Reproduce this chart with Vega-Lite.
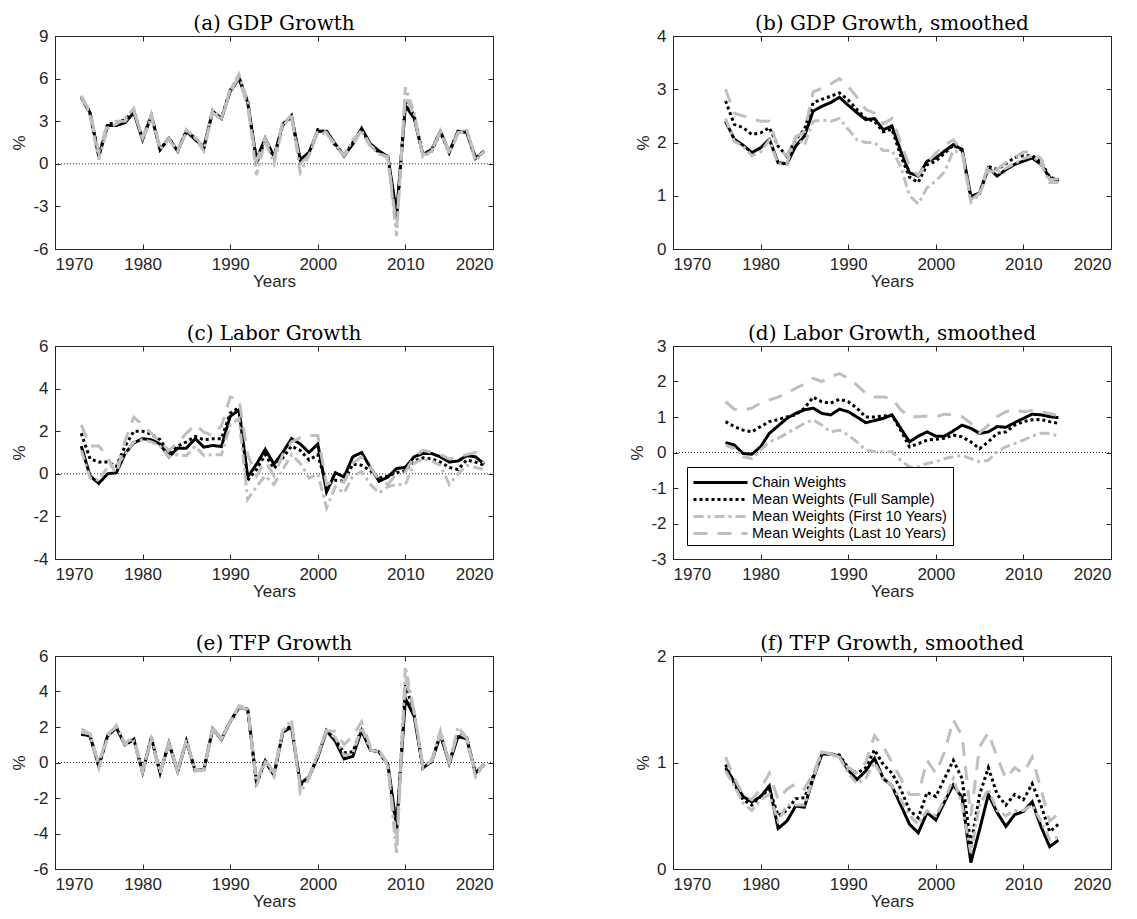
{
"$schema":"https://vega.github.io/schema/vega-lite/v6.json",
"background":"white",
"padding":{"left":10,"top":13,"right":5,"bottom":5},
"autosize":{"type":"pad"},
"datasets":{"d":[
{"p":"a","yr":1973,"cw":4.7,"mf":4.7,"m1":4.8,"ml":4.7},
{"p":"a","yr":1974,"cw":3.6,"mf":3.5,"m1":3.4,"ml":3.7},
{"p":"a","yr":1975,"cw":0.5,"mf":0.6,"m1":0.3,"ml":0.8},
{"p":"a","yr":1976,"cw":2.7,"mf":2.8,"m1":2.5,"ml":2.8},
{"p":"a","yr":1977,"cw":2.7,"mf":2.9,"m1":2.8,"ml":3.0},
{"p":"a","yr":1978,"cw":2.9,"mf":3.1,"m1":3.2,"ml":3.0},
{"p":"a","yr":1979,"cw":3.6,"mf":3.7,"m1":3.9,"ml":3.7},
{"p":"a","yr":1980,"cw":1.7,"mf":1.8,"m1":1.7,"ml":1.8},
{"p":"a","yr":1981,"cw":3.4,"mf":3.4,"m1":3.3,"ml":3.5},
{"p":"a","yr":1982,"cw":1.0,"mf":1.0,"m1":1.0,"ml":1.1},
{"p":"a","yr":1983,"cw":1.8,"mf":1.8,"m1":1.8,"ml":1.7},
{"p":"a","yr":1984,"cw":0.9,"mf":0.9,"m1":0.9,"ml":0.9},
{"p":"a","yr":1985,"cw":2.3,"mf":2.3,"m1":2.4,"ml":2.2},
{"p":"a","yr":1986,"cw":1.7,"mf":1.8,"m1":1.8,"ml":1.9},
{"p":"a","yr":1987,"cw":1.2,"mf":1.1,"m1":0.9,"ml":1.1},
{"p":"a","yr":1988,"cw":3.7,"mf":3.7,"m1":3.8,"ml":3.6},
{"p":"a","yr":1989,"cw":3.2,"mf":3.2,"m1":3.2,"ml":3.1},
{"p":"a","yr":1990,"cw":5.1,"mf":5.2,"m1":5.2,"ml":5.1},
{"p":"a","yr":1991,"cw":6.0,"mf":6.1,"m1":6.3,"ml":6.1},
{"p":"a","yr":1992,"cw":4.3,"mf":4.4,"m1":4.4,"ml":4.0},
{"p":"a","yr":1993,"cw":0.3,"mf":0.0,"m1":-0.8,"ml":0.2},
{"p":"a","yr":1994,"cw":1.8,"mf":1.7,"m1":1.6,"ml":1.8},
{"p":"a","yr":1995,"cw":0.5,"mf":0.4,"m1":0.0,"ml":0.4},
{"p":"a","yr":1996,"cw":2.8,"mf":2.7,"m1":2.6,"ml":2.9},
{"p":"a","yr":1997,"cw":3.3,"mf":3.4,"m1":3.5,"ml":3.3},
{"p":"a","yr":1998,"cw":0.3,"mf":0.1,"m1":-0.6,"ml":0.0},
{"p":"a","yr":1999,"cw":0.8,"mf":0.7,"m1":0.6,"ml":0.6},
{"p":"a","yr":2000,"cw":2.3,"mf":2.4,"m1":2.2,"ml":2.5},
{"p":"a","yr":2001,"cw":2.3,"mf":2.2,"m1":2.1,"ml":2.2},
{"p":"a","yr":2002,"cw":1.4,"mf":1.3,"m1":1.4,"ml":1.2},
{"p":"a","yr":2003,"cw":0.55,"mf":0.6,"m1":0.6,"ml":0.6},
{"p":"a","yr":2004,"cw":1.4,"mf":1.5,"m1":1.7,"ml":1.3},
{"p":"a","yr":2005,"cw":2.5,"mf":2.4,"m1":2.3,"ml":2.4},
{"p":"a","yr":2006,"cw":1.4,"mf":1.3,"m1":1.2,"ml":1.3},
{"p":"a","yr":2007,"cw":0.9,"mf":0.8,"m1":0.7,"ml":0.8},
{"p":"a","yr":2008,"cw":0.5,"mf":0.5,"m1":0.5,"ml":0.4},
{"p":"a","yr":2009,"cw":-3.5,"mf":-3.9,"m1":-5.1,"ml":-4.5},
{"p":"a","yr":2010,"cw":4.1,"mf":4.5,"m1":5.4,"ml":4.9},
{"p":"a","yr":2011,"cw":3.2,"mf":3.4,"m1":3.6,"ml":3.3},
{"p":"a","yr":2012,"cw":0.65,"mf":0.6,"m1":0.5,"ml":0.6},
{"p":"a","yr":2013,"cw":1.0,"mf":0.9,"m1":0.9,"ml":1.0},
{"p":"a","yr":2014,"cw":2.3,"mf":2.2,"m1":2.3,"ml":2.2},
{"p":"a","yr":2015,"cw":0.8,"mf":0.8,"m1":0.7,"ml":0.9},
{"p":"a","yr":2016,"cw":2.3,"mf":2.2,"m1":2.1,"ml":2.2},
{"p":"a","yr":2017,"cw":2.2,"mf":2.3,"m1":2.4,"ml":2.3},
{"p":"a","yr":2018,"cw":0.4,"mf":0.4,"m1":0.2,"ml":0.5},
{"p":"a","yr":2019,"cw":0.9,"mf":0.9,"m1":0.9,"ml":0.8},
{"p":"b","yr":1976,"cw":2.40,"mf":2.78,"m1":2.45,"ml":3.00},
{"p":"b","yr":1977,"cw":2.06,"mf":2.34,"m1":2.02,"ml":2.55},
{"p":"b","yr":1978,"cw":1.95,"mf":2.28,"m1":1.93,"ml":2.50},
{"p":"b","yr":1979,"cw":1.81,"mf":2.15,"m1":1.75,"ml":2.45},
{"p":"b","yr":1980,"cw":1.90,"mf":2.18,"m1":1.82,"ml":2.40},
{"p":"b","yr":1981,"cw":2.06,"mf":2.28,"m1":2.05,"ml":2.40},
{"p":"b","yr":1982,"cw":1.62,"mf":1.93,"m1":1.60,"ml":1.90},
{"p":"b","yr":1983,"cw":1.60,"mf":1.74,"m1":1.60,"ml":1.75},
{"p":"b","yr":1984,"cw":1.93,"mf":2.06,"m1":2.10,"ml":2.10},
{"p":"b","yr":1985,"cw":2.12,"mf":2.24,"m1":1.95,"ml":2.20},
{"p":"b","yr":1986,"cw":2.59,"mf":2.75,"m1":2.40,"ml":2.95},
{"p":"b","yr":1987,"cw":2.68,"mf":2.81,"m1":2.42,"ml":3.02},
{"p":"b","yr":1988,"cw":2.75,"mf":2.87,"m1":2.40,"ml":3.10},
{"p":"b","yr":1989,"cw":2.85,"mf":2.93,"m1":2.45,"ml":3.20},
{"p":"b","yr":1990,"cw":2.70,"mf":2.80,"m1":2.25,"ml":3.05},
{"p":"b","yr":1991,"cw":2.56,"mf":2.62,"m1":2.05,"ml":2.85},
{"p":"b","yr":1992,"cw":2.43,"mf":2.45,"m1":2.00,"ml":2.62},
{"p":"b","yr":1993,"cw":2.45,"mf":2.40,"m1":2.00,"ml":2.55},
{"p":"b","yr":1994,"cw":2.24,"mf":2.20,"m1":1.85,"ml":2.35},
{"p":"b","yr":1995,"cw":2.31,"mf":2.25,"m1":1.85,"ml":2.45},
{"p":"b","yr":1996,"cw":1.84,"mf":1.75,"m1":1.55,"ml":2.00},
{"p":"b","yr":1997,"cw":1.43,"mf":1.35,"m1":1.00,"ml":1.55},
{"p":"b","yr":1998,"cw":1.37,"mf":1.25,"m1":0.85,"ml":1.38},
{"p":"b","yr":1999,"cw":1.65,"mf":1.58,"m1":1.15,"ml":1.62},
{"p":"b","yr":2000,"cw":1.71,"mf":1.65,"m1":1.28,"ml":1.80},
{"p":"b","yr":2001,"cw":1.84,"mf":1.80,"m1":1.45,"ml":1.95},
{"p":"b","yr":2002,"cw":1.96,"mf":1.95,"m1":1.85,"ml":2.05},
{"p":"b","yr":2003,"cw":1.87,"mf":1.85,"m1":1.80,"ml":1.85},
{"p":"b","yr":2004,"cw":0.99,"mf":0.95,"m1":0.88,"ml":0.92},
{"p":"b","yr":2005,"cw":1.05,"mf":1.05,"m1":1.02,"ml":1.05},
{"p":"b","yr":2006,"cw":1.52,"mf":1.55,"m1":1.48,"ml":1.58},
{"p":"b","yr":2007,"cw":1.37,"mf":1.50,"m1":1.42,"ml":1.50},
{"p":"b","yr":2008,"cw":1.49,"mf":1.60,"m1":1.52,"ml":1.62},
{"p":"b","yr":2009,"cw":1.59,"mf":1.72,"m1":1.60,"ml":1.72},
{"p":"b","yr":2010,"cw":1.65,"mf":1.75,"m1":1.70,"ml":1.82},
{"p":"b","yr":2011,"cw":1.71,"mf":1.75,"m1":1.75,"ml":1.82},
{"p":"b","yr":2012,"cw":1.59,"mf":1.65,"m1":1.60,"ml":1.70},
{"p":"b","yr":2013,"cw":1.34,"mf":1.35,"m1":1.25,"ml":1.30},
{"p":"b","yr":2014,"cw":1.27,"mf":1.30,"m1":1.25,"ml":1.32},
{"p":"c","yr":1973,"cw":1.3,"mf":1.9,"m1":1.1,"ml":2.3},
{"p":"c","yr":1974,"cw":-0.1,"mf":0.7,"m1":-0.2,"ml":1.3},
{"p":"c","yr":1975,"cw":-0.45,"mf":0.55,"m1":-0.3,"ml":1.3},
{"p":"c","yr":1976,"cw":0.0,"mf":0.55,"m1":0.3,"ml":0.8},
{"p":"c","yr":1977,"cw":0.05,"mf":0.35,"m1":0.4,"ml":-0.05},
{"p":"c","yr":1978,"cw":0.95,"mf":1.3,"m1":0.9,"ml":1.55},
{"p":"c","yr":1979,"cw":1.45,"mf":2.0,"m1":1.5,"ml":2.65},
{"p":"c","yr":1980,"cw":1.65,"mf":2.0,"m1":1.6,"ml":2.3},
{"p":"c","yr":1981,"cw":1.6,"mf":1.85,"m1":1.5,"ml":1.9},
{"p":"c","yr":1982,"cw":1.4,"mf":1.6,"m1":1.3,"ml":1.5},
{"p":"c","yr":1983,"cw":0.8,"mf":1.0,"m1":0.8,"ml":1.1},
{"p":"c","yr":1984,"cw":1.2,"mf":1.3,"m1":0.9,"ml":1.45},
{"p":"c","yr":1985,"cw":1.2,"mf":1.5,"m1":0.85,"ml":1.9},
{"p":"c","yr":1986,"cw":1.65,"mf":1.75,"m1":1.3,"ml":2.3},
{"p":"c","yr":1987,"cw":1.25,"mf":1.6,"m1":0.85,"ml":1.95},
{"p":"c","yr":1988,"cw":1.33,"mf":1.65,"m1":0.9,"ml":1.8},
{"p":"c","yr":1989,"cw":1.28,"mf":1.65,"m1":0.9,"ml":2.25},
{"p":"c","yr":1990,"cw":2.7,"mf":2.85,"m1":2.3,"ml":3.6},
{"p":"c","yr":1991,"cw":3.0,"mf":3.1,"m1":2.6,"ml":3.5},
{"p":"c","yr":1992,"cw":-0.15,"mf":-0.3,"m1":-1.2,"ml":0.9},
{"p":"c","yr":1993,"cw":0.45,"mf":0.2,"m1":-0.6,"ml":-0.1},
{"p":"c","yr":1994,"cw":1.15,"mf":0.9,"m1":-0.1,"ml":0.6},
{"p":"c","yr":1995,"cw":0.45,"mf":0.25,"m1":-0.5,"ml":-0.1},
{"p":"c","yr":1996,"cw":1.0,"mf":0.75,"m1":0.2,"ml":0.9},
{"p":"c","yr":1997,"cw":1.65,"mf":1.3,"m1":0.9,"ml":1.5},
{"p":"c","yr":1998,"cw":1.4,"mf":1.1,"m1":0.5,"ml":1.7},
{"p":"c","yr":1999,"cw":1.0,"mf":0.65,"m1":-0.2,"ml":1.8},
{"p":"c","yr":2000,"cw":1.4,"mf":0.9,"m1":0.0,"ml":1.8},
{"p":"c","yr":2001,"cw":-0.85,"mf":-0.55,"m1":-1.6,"ml":-0.5},
{"p":"c","yr":2002,"cw":0.05,"mf":-0.3,"m1":-0.6,"ml":-0.3},
{"p":"c","yr":2003,"cw":-0.15,"mf":-0.35,"m1":-0.9,"ml":-0.4},
{"p":"c","yr":2004,"cw":0.8,"mf":0.45,"m1":-0.1,"ml":0.5},
{"p":"c","yr":2005,"cw":1.0,"mf":0.4,"m1":0.1,"ml":0.8},
{"p":"c","yr":2006,"cw":0.3,"mf":0.15,"m1":-0.5,"ml":0.3},
{"p":"c","yr":2007,"cw":-0.35,"mf":-0.2,"m1":-0.9,"ml":-0.3},
{"p":"c","yr":2008,"cw":-0.15,"mf":-0.1,"m1":-0.6,"ml":-0.5},
{"p":"c","yr":2009,"cw":0.25,"mf":0.05,"m1":-0.5,"ml":0.0},
{"p":"c","yr":2010,"cw":0.3,"mf":0.15,"m1":-0.5,"ml":0.1},
{"p":"c","yr":2011,"cw":0.8,"mf":0.6,"m1":0.5,"ml":0.8},
{"p":"c","yr":2012,"cw":0.95,"mf":0.75,"m1":0.7,"ml":1.1},
{"p":"c","yr":2013,"cw":0.95,"mf":0.7,"m1":0.6,"ml":1.0},
{"p":"c","yr":2014,"cw":0.8,"mf":0.55,"m1":0.4,"ml":0.9},
{"p":"c","yr":2015,"cw":0.55,"mf":0.3,"m1":-0.5,"ml":0.7},
{"p":"c","yr":2016,"cw":0.6,"mf":0.2,"m1":0.0,"ml":0.8},
{"p":"c","yr":2017,"cw":0.85,"mf":0.65,"m1":0.4,"ml":0.9},
{"p":"c","yr":2018,"cw":0.8,"mf":0.55,"m1":0.3,"ml":1.0},
{"p":"c","yr":2019,"cw":0.45,"mf":0.4,"m1":0.2,"ml":0.5},
{"p":"d","yr":1976,"cw":0.28,"mf":0.87,"m1":0.21,"ml":1.43},
{"p":"d","yr":1977,"cw":0.21,"mf":0.73,"m1":0.11,"ml":1.22},
{"p":"d","yr":1978,"cw":-0.03,"mf":0.63,"m1":-0.12,"ml":1.20},
{"p":"d","yr":1979,"cw":-0.05,"mf":0.58,"m1":-0.17,"ml":1.25},
{"p":"d","yr":1980,"cw":0.16,"mf":0.73,"m1":0.07,"ml":1.39},
{"p":"d","yr":1981,"cw":0.54,"mf":0.87,"m1":0.30,"ml":1.48},
{"p":"d","yr":1982,"cw":0.75,"mf":0.93,"m1":0.40,"ml":1.56},
{"p":"d","yr":1983,"cw":0.96,"mf":1.00,"m1":0.54,"ml":1.67},
{"p":"d","yr":1984,"cw":1.10,"mf":1.06,"m1":0.68,"ml":1.81},
{"p":"d","yr":1985,"cw":1.20,"mf":1.25,"m1":0.82,"ml":1.93},
{"p":"d","yr":1986,"cw":1.25,"mf":1.56,"m1":0.92,"ml":2.09},
{"p":"d","yr":1987,"cw":1.10,"mf":1.43,"m1":0.77,"ml":2.00},
{"p":"d","yr":1988,"cw":1.06,"mf":1.39,"m1":0.58,"ml":2.14},
{"p":"d","yr":1989,"cw":1.22,"mf":1.50,"m1":0.63,"ml":2.22},
{"p":"d","yr":1990,"cw":1.15,"mf":1.43,"m1":0.49,"ml":2.09},
{"p":"d","yr":1991,"cw":1.00,"mf":1.25,"m1":0.30,"ml":1.90},
{"p":"d","yr":1992,"cw":0.84,"mf":1.00,"m1":0.07,"ml":1.67},
{"p":"d","yr":1993,"cw":0.90,"mf":1.00,"m1":0.02,"ml":1.56},
{"p":"d","yr":1994,"cw":0.96,"mf":1.03,"m1":0.02,"ml":1.56},
{"p":"d","yr":1995,"cw":1.06,"mf":1.05,"m1":0.02,"ml":1.53},
{"p":"d","yr":1996,"cw":0.68,"mf":0.62,"m1":-0.22,"ml":1.20},
{"p":"d","yr":1997,"cw":0.30,"mf":0.16,"m1":-0.41,"ml":1.01},
{"p":"d","yr":1998,"cw":0.46,"mf":0.25,"m1":-0.40,"ml":1.01},
{"p":"d","yr":1999,"cw":0.58,"mf":0.35,"m1":-0.31,"ml":1.03},
{"p":"d","yr":2000,"cw":0.46,"mf":0.37,"m1":-0.26,"ml":1.01},
{"p":"d","yr":2001,"cw":0.46,"mf":0.40,"m1":-0.17,"ml":1.08},
{"p":"d","yr":2002,"cw":0.61,"mf":0.49,"m1":-0.12,"ml":1.06},
{"p":"d","yr":2003,"cw":0.77,"mf":0.44,"m1":-0.08,"ml":1.01},
{"p":"d","yr":2004,"cw":0.68,"mf":0.30,"m1":-0.17,"ml":0.82},
{"p":"d","yr":2005,"cw":0.54,"mf":0.11,"m1":-0.26,"ml":0.56},
{"p":"d","yr":2006,"cw":0.58,"mf":0.30,"m1":-0.22,"ml":0.77},
{"p":"d","yr":2007,"cw":0.73,"mf":0.54,"m1":0.02,"ml":1.01},
{"p":"d","yr":2008,"cw":0.71,"mf":0.58,"m1":0.16,"ml":1.15},
{"p":"d","yr":2009,"cw":0.84,"mf":0.77,"m1":0.25,"ml":1.20},
{"p":"d","yr":2010,"cw":0.96,"mf":0.87,"m1":0.35,"ml":1.15},
{"p":"d","yr":2011,"cw":1.08,"mf":0.92,"m1":0.46,"ml":1.18},
{"p":"d","yr":2012,"cw":1.06,"mf":0.93,"m1":0.54,"ml":1.15},
{"p":"d","yr":2013,"cw":1.01,"mf":0.87,"m1":0.54,"ml":1.10},
{"p":"d","yr":2014,"cw":0.98,"mf":0.82,"m1":0.46,"ml":1.03},
{"p":"e","yr":1973,"cw":1.6,"mf":1.6,"m1":1.7,"ml":1.9},
{"p":"e","yr":1974,"cw":1.5,"mf":1.5,"m1":1.6,"ml":1.6},
{"p":"e","yr":1975,"cw":-0.2,"mf":-0.2,"m1":-0.3,"ml":-0.1},
{"p":"e","yr":1976,"cw":1.5,"mf":1.5,"m1":1.4,"ml":1.6},
{"p":"e","yr":1977,"cw":1.95,"mf":2.0,"m1":2.1,"ml":2.0},
{"p":"e","yr":1978,"cw":1.0,"mf":1.0,"m1":1.0,"ml":1.1},
{"p":"e","yr":1979,"cw":1.3,"mf":1.3,"m1":1.2,"ml":1.4},
{"p":"e","yr":1980,"cw":-0.55,"mf":-0.55,"m1":-0.6,"ml":-0.5},
{"p":"e","yr":1981,"cw":1.4,"mf":1.4,"m1":1.5,"ml":1.3},
{"p":"e","yr":1982,"cw":-0.6,"mf":-0.6,"m1":-0.6,"ml":-0.6},
{"p":"e","yr":1983,"cw":1.1,"mf":1.1,"m1":1.1,"ml":1.1},
{"p":"e","yr":1984,"cw":-0.5,"mf":-0.5,"m1":-0.5,"ml":-0.5},
{"p":"e","yr":1985,"cw":1.2,"mf":1.2,"m1":1.3,"ml":1.2},
{"p":"e","yr":1986,"cw":-0.45,"mf":-0.45,"m1":-0.5,"ml":-0.4},
{"p":"e","yr":1987,"cw":-0.4,"mf":-0.4,"m1":-0.4,"ml":-0.45},
{"p":"e","yr":1988,"cw":1.9,"mf":1.9,"m1":2.0,"ml":1.9},
{"p":"e","yr":1989,"cw":1.3,"mf":1.3,"m1":1.3,"ml":1.3},
{"p":"e","yr":1990,"cw":2.3,"mf":2.3,"m1":2.3,"ml":2.3},
{"p":"e","yr":1991,"cw":3.1,"mf":3.1,"m1":3.1,"ml":3.2},
{"p":"e","yr":1992,"cw":3.0,"mf":3.0,"m1":3.0,"ml":3.1},
{"p":"e","yr":1993,"cw":-1.1,"mf":-1.2,"m1":-1.3,"ml":-1.1},
{"p":"e","yr":1994,"cw":0.1,"mf":0.05,"m1":0.0,"ml":0.2},
{"p":"e","yr":1995,"cw":-0.7,"mf":-0.7,"m1":-0.8,"ml":-0.6},
{"p":"e","yr":1996,"cw":1.7,"mf":1.7,"m1":1.8,"ml":1.8},
{"p":"e","yr":1997,"cw":2.0,"mf":2.1,"m1":2.4,"ml":2.2},
{"p":"e","yr":1998,"cw":-1.2,"mf":-1.3,"m1":-1.7,"ml":-1.4},
{"p":"e","yr":1999,"cw":-0.8,"mf":-0.8,"m1":-0.9,"ml":-0.8},
{"p":"e","yr":2000,"cw":0.3,"mf":0.4,"m1":0.5,"ml":0.4},
{"p":"e","yr":2001,"cw":1.8,"mf":1.8,"m1":1.8,"ml":1.8},
{"p":"e","yr":2002,"cw":1.2,"mf":1.3,"m1":1.4,"ml":1.75},
{"p":"e","yr":2003,"cw":0.2,"mf":0.55,"m1":0.4,"ml":1.0},
{"p":"e","yr":2004,"cw":0.35,"mf":0.6,"m1":0.5,"ml":1.5},
{"p":"e","yr":2005,"cw":1.8,"mf":1.9,"m1":2.0,"ml":2.3},
{"p":"e","yr":2006,"cw":0.7,"mf":0.7,"m1":0.7,"ml":0.9},
{"p":"e","yr":2007,"cw":0.6,"mf":0.6,"m1":0.6,"ml":0.7},
{"p":"e","yr":2008,"cw":-0.1,"mf":-0.15,"m1":-0.2,"ml":-0.1},
{"p":"e","yr":2009,"cw":-3.6,"mf":-4.0,"m1":-5.2,"ml":-4.6},
{"p":"e","yr":2010,"cw":3.6,"mf":4.4,"m1":5.4,"ml":4.8},
{"p":"e","yr":2011,"cw":2.6,"mf":2.8,"m1":2.8,"ml":2.9},
{"p":"e","yr":2012,"cw":-0.3,"mf":-0.3,"m1":-0.3,"ml":-0.2},
{"p":"e","yr":2013,"cw":0.05,"mf":0.1,"m1":0.1,"ml":0.1},
{"p":"e","yr":2014,"cw":1.55,"mf":1.6,"m1":1.8,"ml":1.6},
{"p":"e","yr":2015,"cw":-0.05,"mf":0.0,"m1":-0.05,"ml":0.0},
{"p":"e","yr":2016,"cw":1.45,"mf":1.6,"m1":2.0,"ml":1.7},
{"p":"e","yr":2017,"cw":1.35,"mf":1.4,"m1":1.4,"ml":1.4},
{"p":"e","yr":2018,"cw":-0.6,"mf":-0.6,"m1":-0.8,"ml":-0.6},
{"p":"e","yr":2019,"cw":-0.1,"mf":-0.1,"m1":-0.1,"ml":-0.1},
{"p":"f","yr":1976,"cw":0.95,"mf":0.98,"m1":0.92,"ml":1.05},
{"p":"f","yr":1977,"cw":0.82,"mf":0.80,"m1":0.78,"ml":0.85},
{"p":"f","yr":1978,"cw":0.68,"mf":0.65,"m1":0.62,"ml":0.70},
{"p":"f","yr":1979,"cw":0.63,"mf":0.60,"m1":0.55,"ml":0.65},
{"p":"f","yr":1980,"cw":0.68,"mf":0.68,"m1":0.65,"ml":0.75},
{"p":"f","yr":1981,"cw":0.78,"mf":0.75,"m1":0.70,"ml":0.90},
{"p":"f","yr":1982,"cw":0.38,"mf":0.50,"m1":0.45,"ml":0.65},
{"p":"f","yr":1983,"cw":0.45,"mf":0.55,"m1":0.60,"ml":0.75},
{"p":"f","yr":1984,"cw":0.59,"mf":0.66,"m1":0.60,"ml":0.80},
{"p":"f","yr":1985,"cw":0.58,"mf":0.67,"m1":0.60,"ml":0.75},
{"p":"f","yr":1986,"cw":0.85,"mf":0.87,"m1":0.85,"ml":0.90},
{"p":"f","yr":1987,"cw":1.08,"mf":1.08,"m1":1.10,"ml":1.10},
{"p":"f","yr":1988,"cw":1.08,"mf":1.08,"m1":1.08,"ml":1.08},
{"p":"f","yr":1989,"cw":1.06,"mf":1.07,"m1":1.05,"ml":1.05},
{"p":"f","yr":1990,"cw":0.93,"mf":0.95,"m1":0.90,"ml":0.95},
{"p":"f","yr":1991,"cw":0.84,"mf":0.90,"m1":0.80,"ml":0.90},
{"p":"f","yr":1992,"cw":0.92,"mf":0.95,"m1":0.85,"ml":1.00},
{"p":"f","yr":1993,"cw":1.04,"mf":1.12,"m1":1.00,"ml":1.25},
{"p":"f","yr":1994,"cw":0.85,"mf":0.98,"m1":0.85,"ml":1.15},
{"p":"f","yr":1995,"cw":0.78,"mf":0.90,"m1":0.78,"ml":1.00},
{"p":"f","yr":1996,"cw":0.60,"mf":0.75,"m1":0.65,"ml":0.85},
{"p":"f","yr":1997,"cw":0.42,"mf":0.55,"m1":0.50,"ml":0.70},
{"p":"f","yr":1998,"cw":0.34,"mf":0.48,"m1":0.42,"ml":0.70},
{"p":"f","yr":1999,"cw":0.53,"mf":0.72,"m1":0.55,"ml":1.02},
{"p":"f","yr":2000,"cw":0.46,"mf":0.68,"m1":0.50,"ml":0.90},
{"p":"f","yr":2001,"cw":0.63,"mf":0.85,"m1":0.65,"ml":1.10},
{"p":"f","yr":2002,"cw":0.79,"mf":1.02,"m1":0.85,"ml":1.40},
{"p":"f","yr":2003,"cw":0.67,"mf":0.85,"m1":0.60,"ml":1.25},
{"p":"f","yr":2004,"cw":0.06,"mf":0.22,"m1":0.15,"ml":0.50},
{"p":"f","yr":2005,"cw":0.37,"mf":0.70,"m1":0.60,"ml":1.15},
{"p":"f","yr":2006,"cw":0.70,"mf":0.95,"m1":0.75,"ml":1.28},
{"p":"f","yr":2007,"cw":0.53,"mf":0.70,"m1":0.55,"ml":1.05},
{"p":"f","yr":2008,"cw":0.40,"mf":0.60,"m1":0.50,"ml":0.85},
{"p":"f","yr":2009,"cw":0.51,"mf":0.70,"m1":0.55,"ml":0.95},
{"p":"f","yr":2010,"cw":0.54,"mf":0.65,"m1":0.55,"ml":0.90},
{"p":"f","yr":2011,"cw":0.63,"mf":0.80,"m1":0.60,"ml":1.05},
{"p":"f","yr":2012,"cw":0.40,"mf":0.60,"m1":0.45,"ml":0.75},
{"p":"f","yr":2013,"cw":0.21,"mf":0.35,"m1":0.28,"ml":0.45},
{"p":"f","yr":2014,"cw":0.27,"mf":0.42,"m1":0.30,"ml":0.52}
]},
"columns":2,
"spacing":{"row":97,"column":180},
"bounds":"flush",
"resolve":{"scale":{"color":"independent","strokeDash":"independent"},"legend":{"color":"independent","strokeDash":"independent"}},
"concat":[
{"width":438,"height":213,"title":"(a) GDP Growth",
 "layer":[
  {"data":{"values":[{}]},"mark":{"type":"rule","strokeDash":[1,2],"strokeWidth":1,"color":"#262626"},
   "encoding":{"x":{"datum":1970,"type":"quantitative","scale":{"domain":[1970,2020],"nice":false,"zero":false},"axis":{"orient":"top","labels":false,"title":null,"values":[1970,1980,1990,2000,2010,2020]}},
    "x2":{"datum":2020},
    "y":{"datum":0,"type":"quantitative","scale":{"domain":[-6,9],"nice":false,"zero":false},"axis":{"orient":"right","labels":false,"title":null,"values":[-6,-3,0,3,6,9]}}}},
  {"data":{"name":"d"},"transform":[{"filter":"datum.p=='a'"},{"fold":["cw","mf","m1","ml"],"as":["s","v"]}],
   "mark":{"type":"line","strokeWidth":3},
   "encoding":{"x":{"field":"yr","type":"quantitative","axis":{"orient":"bottom","title":"Years","format":"d","values":[1970,1980,1990,2000,2010,2020]}},
    "y":{"field":"v","type":"quantitative","axis":{"orient":"left","title":"%","values":[-6,-3,0,3,6,9],"labelExpr":"''+datum.value"}},
    "color":{"field":"s","type":"nominal","scale":{"domain":["cw","mf","m1","ml"],"range":["#000000","#000000","#bfbfbf","#bfbfbf"]},"legend":null},
    "strokeDash":{"field":"s","type":"nominal","scale":{"domain":["cw","mf","m1","ml"],"range":[[1,0],[3,3],[10,4,3,4],[14,10]]},"legend":null}}}
 ],
 "resolve":{"axis":{"x":"independent","y":"independent"}}},
{"width":438,"height":213,"title":"(b) GDP Growth, smoothed",
 "layer":[
  {"data":{"values":[{}]},"mark":{"type":"rule","strokeOpacity":0},
   "encoding":{"x":{"datum":1970,"type":"quantitative","scale":{"domain":[1970,2020],"nice":false,"zero":false},"axis":{"orient":"top","labels":false,"title":null,"values":[1970,1980,1990,2000,2010,2020]}},
    "x2":{"datum":2020},
    "y":{"datum":0,"type":"quantitative","scale":{"domain":[0,4],"nice":false,"zero":false},"axis":{"orient":"right","labels":false,"title":null,"values":[0,1,2,3,4]}}}},
  {"data":{"name":"d"},"transform":[{"filter":"datum.p=='b'"},{"fold":["cw","mf","m1","ml"],"as":["s","v"]}],
   "mark":{"type":"line","strokeWidth":3},
   "encoding":{"x":{"field":"yr","type":"quantitative","axis":{"orient":"bottom","title":"Years","format":"d","values":[1970,1980,1990,2000,2010,2020]}},
    "y":{"field":"v","type":"quantitative","axis":{"orient":"left","title":"%","values":[0,1,2,3,4],"labelExpr":"''+datum.value"}},
    "color":{"field":"s","type":"nominal","scale":{"domain":["cw","mf","m1","ml"],"range":["#000000","#000000","#bfbfbf","#bfbfbf"]},"legend":null},
    "strokeDash":{"field":"s","type":"nominal","scale":{"domain":["cw","mf","m1","ml"],"range":[[1,0],[3,3],[10,4,3,4],[14,10]]},"legend":null}}}
 ],
 "resolve":{"axis":{"x":"independent","y":"independent"}}},
{"width":438,"height":213,"title":"(c) Labor Growth",
 "layer":[
  {"data":{"values":[{}]},"mark":{"type":"rule","strokeDash":[1,2],"strokeWidth":1,"color":"#262626"},
   "encoding":{"x":{"datum":1970,"type":"quantitative","scale":{"domain":[1970,2020],"nice":false,"zero":false},"axis":{"orient":"top","labels":false,"title":null,"values":[1970,1980,1990,2000,2010,2020]}},
    "x2":{"datum":2020},
    "y":{"datum":0,"type":"quantitative","scale":{"domain":[-4,6],"nice":false,"zero":false},"axis":{"orient":"right","labels":false,"title":null,"values":[-4,-2,0,2,4,6]}}}},
  {"data":{"name":"d"},"transform":[{"filter":"datum.p=='c'"},{"fold":["cw","mf","m1","ml"],"as":["s","v"]}],
   "mark":{"type":"line","strokeWidth":3},
   "encoding":{"x":{"field":"yr","type":"quantitative","axis":{"orient":"bottom","title":"Years","format":"d","values":[1970,1980,1990,2000,2010,2020]}},
    "y":{"field":"v","type":"quantitative","axis":{"orient":"left","title":"%","values":[-4,-2,0,2,4,6],"labelExpr":"''+datum.value"}},
    "color":{"field":"s","type":"nominal","scale":{"domain":["cw","mf","m1","ml"],"range":["#000000","#000000","#bfbfbf","#bfbfbf"]},"legend":null},
    "strokeDash":{"field":"s","type":"nominal","scale":{"domain":["cw","mf","m1","ml"],"range":[[1,0],[3,3],[10,4,3,4],[14,10]]},"legend":null}}}
 ],
 "resolve":{"axis":{"x":"independent","y":"independent"}}},
{"width":438,"height":213,"title":"(d) Labor Growth, smoothed",
 "layer":[
  {"data":{"values":[{}]},"mark":{"type":"rule","strokeDash":[1,2],"strokeWidth":1,"color":"#262626"},
   "encoding":{"x":{"datum":1970,"type":"quantitative","scale":{"domain":[1970,2020],"nice":false,"zero":false},"axis":{"orient":"top","labels":false,"title":null,"values":[1970,1980,1990,2000,2010,2020]}},
    "x2":{"datum":2020},
    "y":{"datum":0,"type":"quantitative","scale":{"domain":[-3,3],"nice":false,"zero":false},"axis":{"orient":"right","labels":false,"title":null,"values":[-3,-2,-1,0,1,2,3]}}}},
  {"data":{"name":"d"},"transform":[{"filter":"datum.p=='d'"},{"fold":["cw","mf","m1","ml"],"as":["s","v"]}],
   "mark":{"type":"line","strokeWidth":3},
   "encoding":{"x":{"field":"yr","type":"quantitative","axis":{"orient":"bottom","title":"Years","format":"d","values":[1970,1980,1990,2000,2010,2020]}},
    "y":{"field":"v","type":"quantitative","axis":{"orient":"left","title":"%","values":[-3,-2,-1,0,1,2,3],"labelExpr":"''+datum.value"}},
    "color":{"field":"s","type":"nominal","scale":{"domain":["cw","mf","m1","ml"],"range":["#000000","#000000","#bfbfbf","#bfbfbf"]},
      "legend":{"orient":"bottom-left","offset":14,"title":null,"labelExpr":"datum.value=='cw'?'Chain Weights':datum.value=='mf'?'Mean Weights (Full Sample)':datum.value=='m1'?'Mean Weights (First 10 Years)':'Mean Weights (Last 10 Years)'","labelFont":"Liberation Sans","labelFontSize":14.5,"labelColor":"#000000","labelLimit":0,"strokeColor":"#000000","fillColor":"#ffffff","padding":5,"symbolType":"M-3,0H3","symbolSize":324,"symbolStrokeWidth":3,"symbolOffset":18,"labelOffset":21,"rowPadding":0,"cornerRadius":0}},
    "strokeDash":{"field":"s","type":"nominal","scale":{"domain":["cw","mf","m1","ml"],"range":[[1,0],[3,3],[10,4,3,4],[14,10]]},
      "legend":{"orient":"bottom-left","offset":14,"title":null,"labelExpr":"datum.value=='cw'?'Chain Weights':datum.value=='mf'?'Mean Weights (Full Sample)':datum.value=='m1'?'Mean Weights (First 10 Years)':'Mean Weights (Last 10 Years)'","labelFont":"Liberation Sans","labelFontSize":14.5,"labelColor":"#000000","labelLimit":0,"strokeColor":"#000000","fillColor":"#ffffff","padding":5,"symbolType":"M-3,0H3","symbolSize":324,"symbolStrokeWidth":3,"symbolOffset":18,"labelOffset":21,"rowPadding":0,"cornerRadius":0}}}}
 ],
 "resolve":{"axis":{"x":"independent","y":"independent"}}},
{"width":438,"height":213,"title":"(e) TFP Growth",
 "layer":[
  {"data":{"values":[{}]},"mark":{"type":"rule","strokeDash":[1,2],"strokeWidth":1,"color":"#262626"},
   "encoding":{"x":{"datum":1970,"type":"quantitative","scale":{"domain":[1970,2020],"nice":false,"zero":false},"axis":{"orient":"top","labels":false,"title":null,"values":[1970,1980,1990,2000,2010,2020]}},
    "x2":{"datum":2020},
    "y":{"datum":0,"type":"quantitative","scale":{"domain":[-6,6],"nice":false,"zero":false},"axis":{"orient":"right","labels":false,"title":null,"values":[-6,-4,-2,0,2,4,6]}}}},
  {"data":{"name":"d"},"transform":[{"filter":"datum.p=='e'"},{"fold":["cw","mf","m1","ml"],"as":["s","v"]}],
   "mark":{"type":"line","strokeWidth":3},
   "encoding":{"x":{"field":"yr","type":"quantitative","axis":{"orient":"bottom","title":"Years","format":"d","values":[1970,1980,1990,2000,2010,2020]}},
    "y":{"field":"v","type":"quantitative","axis":{"orient":"left","title":"%","values":[-6,-4,-2,0,2,4,6],"labelExpr":"''+datum.value"}},
    "color":{"field":"s","type":"nominal","scale":{"domain":["cw","mf","m1","ml"],"range":["#000000","#000000","#bfbfbf","#bfbfbf"]},"legend":null},
    "strokeDash":{"field":"s","type":"nominal","scale":{"domain":["cw","mf","m1","ml"],"range":[[1,0],[3,3],[10,4,3,4],[14,10]]},"legend":null}}}
 ],
 "resolve":{"axis":{"x":"independent","y":"independent"}}},
{"width":438,"height":213,"title":"(f) TFP Growth, smoothed",
 "layer":[
  {"data":{"values":[{}]},"mark":{"type":"rule","strokeOpacity":0},
   "encoding":{"x":{"datum":1970,"type":"quantitative","scale":{"domain":[1970,2020],"nice":false,"zero":false},"axis":{"orient":"top","labels":false,"title":null,"values":[1970,1980,1990,2000,2010,2020]}},
    "x2":{"datum":2020},
    "y":{"datum":0,"type":"quantitative","scale":{"domain":[0,2],"nice":false,"zero":false},"axis":{"orient":"right","labels":false,"title":null,"values":[0,1,2]}}}},
  {"data":{"name":"d"},"transform":[{"filter":"datum.p=='f'"},{"fold":["cw","mf","m1","ml"],"as":["s","v"]}],
   "mark":{"type":"line","strokeWidth":3},
   "encoding":{"x":{"field":"yr","type":"quantitative","axis":{"orient":"bottom","title":"Years","format":"d","values":[1970,1980,1990,2000,2010,2020]}},
    "y":{"field":"v","type":"quantitative","axis":{"orient":"left","title":"%","values":[0,1,2],"labelExpr":"''+datum.value"}},
    "color":{"field":"s","type":"nominal","scale":{"domain":["cw","mf","m1","ml"],"range":["#000000","#000000","#bfbfbf","#bfbfbf"]},"legend":null},
    "strokeDash":{"field":"s","type":"nominal","scale":{"domain":["cw","mf","m1","ml"],"range":[[1,0],[3,3],[10,4,3,4],[14,10]]},"legend":null}}}
 ],
 "resolve":{"axis":{"x":"independent","y":"independent"}}}
],
"config":{
 "view":{"stroke":"#262626","strokeWidth":1},
 "title":{"font":"DejaVu Serif","fontSize":20,"fontWeight":"normal","color":"#000000","offset":-7,"anchor":"middle"},
 "axis":{"labelFont":"Liberation Sans","labelFontSize":17,"labelColor":"#262626","titleFont":"Liberation Sans","titleFontSize":17,"titleFontWeight":"normal","titleColor":"#262626","domainColor":"#262626","tickColor":"#262626","tickSize":-5,"labelPadding":12,"grid":false,"titlePadding":4},
 "axisX":{"labelPadding":12,"titlePadding":1}
}
}
